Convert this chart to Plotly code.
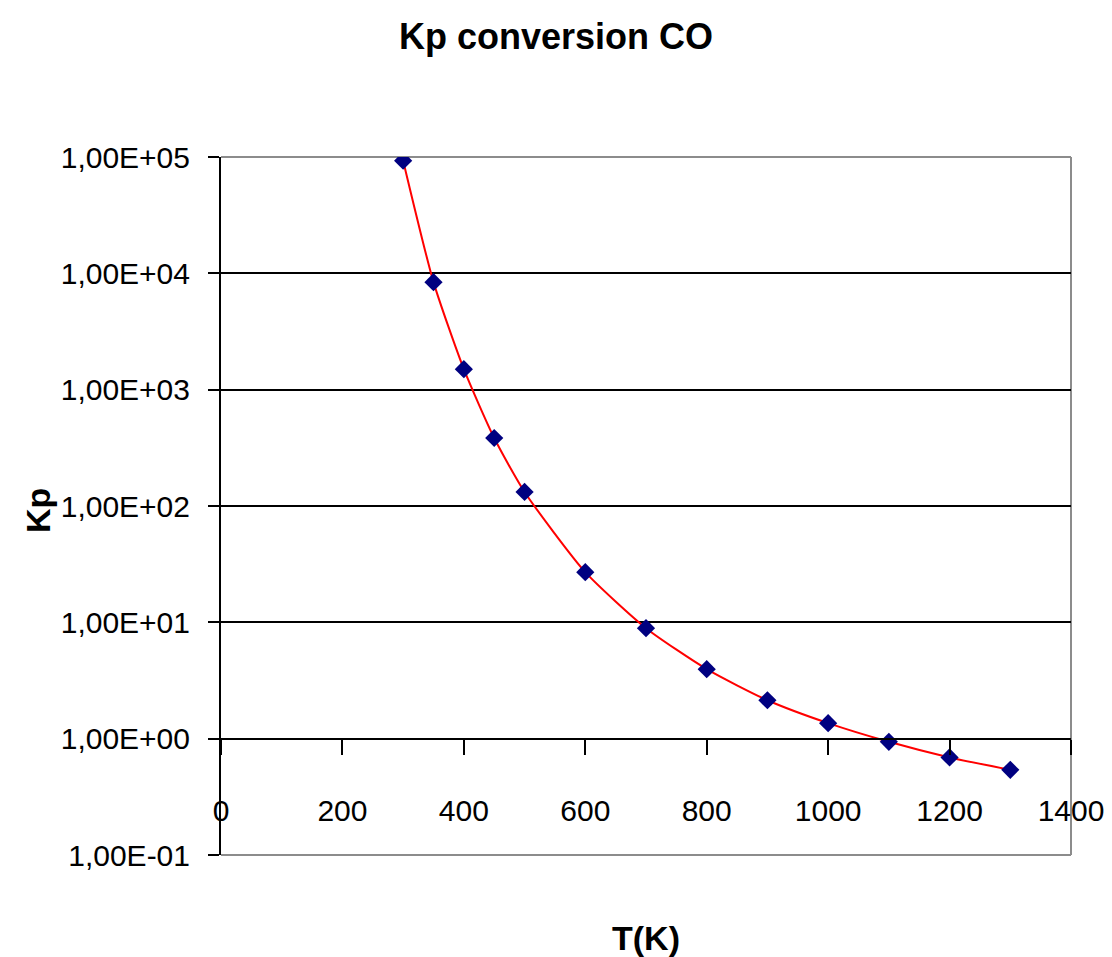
import plotly.graph_objects as go

T_K = [300, 350, 400, 450, 500, 600, 700, 800, 900, 1000, 1100, 1200, 1300]
Kp = [9.3e4, 8.4e3, 1.5e3, 384, 132, 27, 8.9, 3.96, 2.14, 1.36, 0.94, 0.69, 0.54]

y_tickvals = [1e-1, 1e0, 1e1, 1e2, 1e3, 1e4, 1e5]
y_ticktext = ["1,00E-01", "1,00E+00", "1,00E+01", "1,00E+02", "1,00E+03", "1,00E+04", "1,00E+05"]
x_tickvals = [0, 200, 400, 600, 800, 1000, 1200, 1400]

FONT = "Liberation Sans, Arial, sans-serif"

fig = go.Figure()
fig.add_trace(go.Scatter(
    x=T_K, y=Kp, mode="lines+markers",
    line=dict(color="#FF0000", width=2, shape="spline", smoothing=0.6),
    marker=dict(symbol="diamond", color="#000080", size=14),
    showlegend=False,
))

fig.update_layout(
    width=1112, height=957,
    margin=dict(l=221, r=41, t=157, b=102),
    paper_bgcolor="white", plot_bgcolor="white",
    font=dict(family=FONT, size=30, color="black"),
    title=dict(text="<b>Kp conversion CO</b>", x=0.5, xanchor="center", y=1 - 36 / 957, yanchor="middle",
               font=dict(family=FONT, size=36, color="black")),
    xaxis=dict(
        range=[0, 1400], tickvals=x_tickvals, showgrid=False, zeroline=False,
        anchor="free", position=1/6, showline=True, linecolor="black", linewidth=2,
        ticks="outside", ticklen=15, tickwidth=2, tickcolor="black",
        ticklabelstandoff=30, automargin=False,
    ),
    yaxis=dict(
        type="log", range=[-1, 5], tickvals=y_tickvals, ticktext=y_ticktext,
        showgrid=True, gridcolor="black", gridwidth=1.5, zeroline=False,
        showline=True, linecolor="black", linewidth=2,
        ticks="outside", ticklen=11, tickwidth=2, tickcolor="black",
        ticklabelstandoff=12, automargin=False,
    ),
)

fig.add_annotation(text="<b>T(K)</b>", xref="paper", yref="paper", x=0.5, y=(855 - 938) / 698,
                   xanchor="center", yanchor="middle", showarrow=False,
                   font=dict(family=FONT, size=34, color="black"))
fig.add_annotation(text="<b>Kp</b>", xref="paper", yref="paper", x=(38 - 221) / 850, y=(855 - 511) / 698,
                   xanchor="center", yanchor="middle", showarrow=False, textangle=-90,
                   font=dict(family=FONT, size=34, color="black"))

for x0, y0, x1, y1 in [(0, 1, 1, 1), (1, 0, 1, 1), (0, 0, 1, 0)]:
    fig.add_shape(type="line", xref="paper", yref="paper", x0=x0, y0=y0, x1=x1, y1=y1,
                  line=dict(color="#8c8c8c", width=2), layer="between")

fig.write_html("out.html")
